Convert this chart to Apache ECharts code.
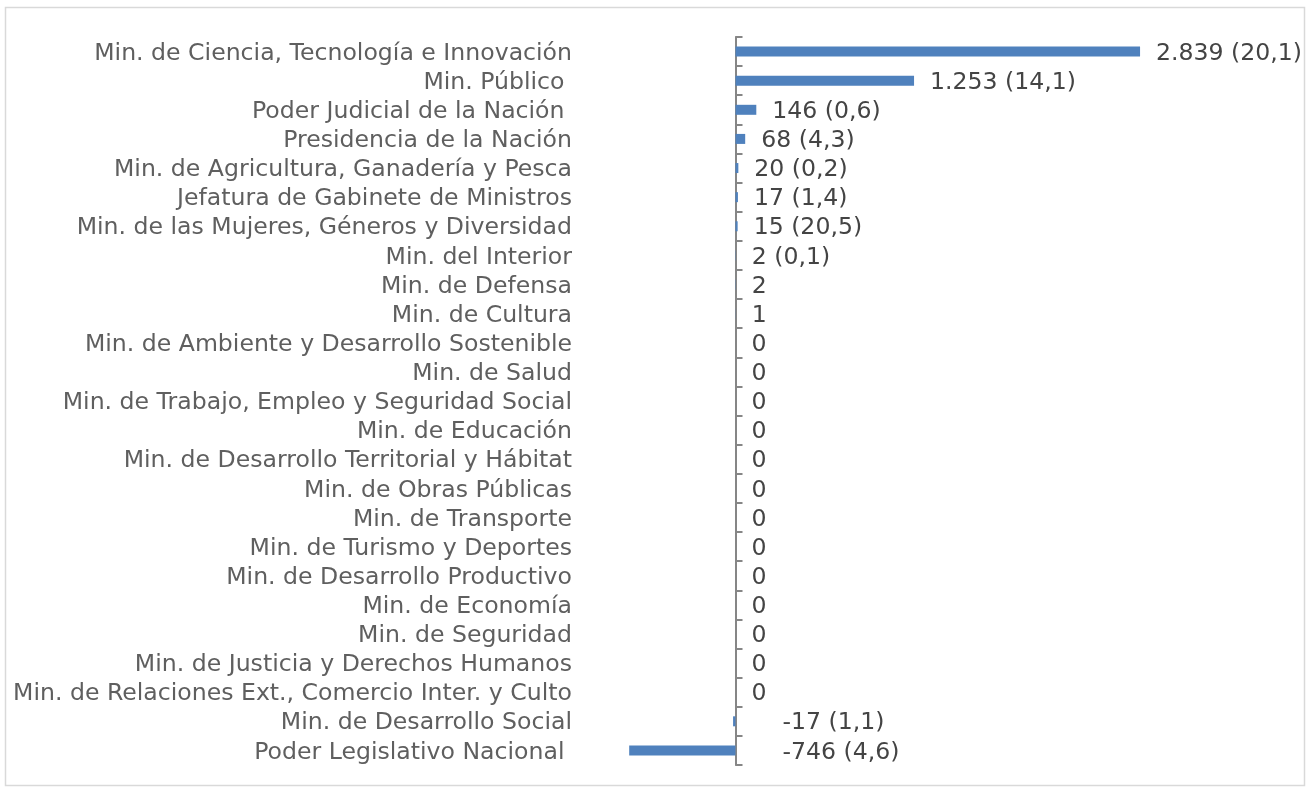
<!DOCTYPE html>
<html>
<head>
<meta charset="utf-8">
<script src="https://cdn.jsdelivr.net/npm/echarts@6/dist/echarts.min.js"></script>
<style>
  html, body { margin: 0; padding: 0; background: #fff; }
  #chart { width: 1308px; height: 787px; }
</style>
</head>
<body>
<div id="chart"></div>
<script>
var categories = [
    'Min. de Ciencia, Tecnología e Innovación',
    'Min. Público ',
    'Poder Judicial de la Nación ',
    'Presidencia de la Nación',
    'Min. de Agricultura, Ganadería y Pesca',
    'Jefatura de Gabinete de Ministros',
    'Min. de las Mujeres, Géneros y Diversidad',
    'Min. del Interior',
    'Min. de Defensa',
    'Min. de Cultura',
    'Min. de Ambiente y Desarrollo Sostenible',
    'Min. de Salud',
    'Min. de Trabajo, Empleo y Seguridad Social',
    'Min. de Educación',
    'Min. de Desarrollo Territorial y Hábitat',
    'Min. de Obras Públicas',
    'Min. de Transporte',
    'Min. de Turismo y Deportes',
    'Min. de Desarrollo Productivo',
    'Min. de Economía',
    'Min. de Seguridad',
    'Min. de Justicia y Derechos Humanos',
    'Min. de Relaciones Ext., Comercio Inter. y Culto',
    'Min. de Desarrollo Social',
    'Poder Legislativo Nacional '
];
var values = [2839, 1253, 146, 68, 20, 17, 15, 2, 2, 1, 0, 0, 0, 0, 0, 0, 0, 0, 0, 0, 0, 0, 0, -17, -746];
var percents = ['20,1', '14,1', '0,6', '4,3', '0,2', '1,4', '20,5', '0,1', '', '', '', '', '', '', '', '', '', '', '', '', '', '', '', '1,1', '4,6'];

var FONT = '"DejaVu Sans", sans-serif';

function fmt(v) {
    var s = String(Math.abs(v)).replace(/\B(?=(\d{3})+(?!\d))/g, '.');
    return (v < 0 ? '-' : '') + s;
}

var chart = echarts.init(document.getElementById('chart'));

// negative bars: label sits right of the axis, like the original
var seriesData = values.map(function (v) {
    var item = { value: v };
    if (v < 0) {
        item.label = { distance: 47 };
    }
    return item;
});

// text token nudged a couple of px down
var txt = { fontFamily: FONT, fontSize: 23.6, padding: [4, 0, 0, 0], verticalAlign: 'bottom' };

var option = {
    backgroundColor: '#ffffff',
    animation: false,
    graphic: [{
        type: 'rect',
        shape: { x: 5.5, y: 7.5, width: 1299, height: 778 },
        style: { fill: 'none', stroke: '#d9d9d9', lineWidth: 1.5 },
        silent: true
    }],
    grid: { left: 593, right: 145, top: 37, bottom: 22, containLabel: false },
    xAxis: {
        type: 'value',
        min: -1000,
        max: 3000,
        show: false,
        splitLine: { show: false }
    },
    yAxis: [
        {
            type: 'category',
            data: categories,
            inverse: true,
            axisLine: { onZero: true, lineStyle: { color: '#868686', width: 2 } },
            axisTick: { show: true, inside: true, length: 7, interval: 0, lineStyle: { color: '#868686', width: 2 } },
            axisLabel: { show: false }
        },
        {
            type: 'category',
            data: categories,
            inverse: true,
            position: 'left',
            axisLine: { show: false, onZero: false },
            axisTick: { show: false },
            axisLabel: {
                interval: 0,
                margin: 21,
                color: '#5f5f5f',
                fontFamily: FONT,
                fontSize: 23.6,
                formatter: function (v) { return '{t|' + v + '}'; },
                rich: { t: Object.assign({ color: '#5f5f5f' }, txt) }
            }
        }
    ],
    series: [{
        type: 'bar',
        yAxisIndex: 0,
        data: seriesData,
        barWidth: 10,
        itemStyle: { color: '#4f81bd' },
        label: {
            show: true,
            position: 'right',
            distance: 16,
            color: '#444444',
            fontFamily: FONT,
            fontSize: 23.6,
            rich: { t: Object.assign({ color: '#444444' }, txt) },
            formatter: function (p) {
                var pct = percents[p.dataIndex];
                return '{t|' + fmt(p.value) + (pct ? ' (' + pct + ')' : '') + '}';
            }
        }
    }]
};

chart.setOption(option);
</script>
</body>
</html>
